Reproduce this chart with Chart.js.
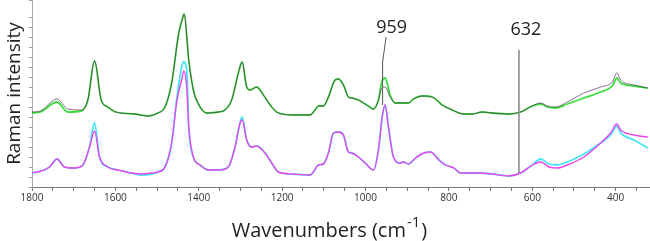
<!DOCTYPE html>
<html>
<head>
<meta charset="utf-8">
<script src="https://cdn.jsdelivr.net/npm/chart.js@4/dist/chart.umd.min.js"></script>
<style>
  body { margin: 0; background: #fff; }
  #wrap { position: relative; width: 650px; height: 241px; }
</style>
</head>
<body>
<div id="wrap"><canvas id="c"></canvas></div>
<script>
// upper pair of spectra (purple / green)
const upperWn = [1800, 1780, 1740, 1714, 1682, 1666, 1650, 1634, 1618, 1599,
    1554, 1522, 1498, 1481, 1465, 1448, 1440, 1435, 1424, 1413,
    1402, 1381, 1353, 1337, 1321, 1305, 1296, 1285, 1277, 1261,
    1245, 1225, 1209, 1169, 1133, 1121, 1113, 1101, 1089, 1073,
    1065, 1053, 1041, 1033, 1017, 993, 981, 969, 961, 953,
    941, 929, 897, 885, 864, 840, 816, 792, 764, 744,
    720, 696, 656, 628, 600, 580, 564, 544, 516, 476,
    436, 408, 397, 388, 356, 323];
const purple = [75, 76, 88, 78, 77, 87, 126, 87, 80, 75,
    73, 71, 74, 80, 104, 154, 167, 173, 127, 97,
    84, 74, 75, 77, 87, 114, 125, 100, 97, 100,
    92, 80, 74, 72, 72, 77, 81, 81, 90, 107,
    108, 102, 90, 89, 87, 81, 78, 87, 99, 100,
    90, 84, 84, 88, 91, 90, 82, 77, 73, 73,
    75, 74, 73, 75, 81, 84, 81, 80, 85, 94,
    100, 105, 114, 107, 102, 99];
const green = [74, 75, 85, 75, 76, 87, 126, 87, 80, 75,
    73, 71, 74, 80, 104, 154, 167, 173, 127, 97,
    84, 74, 75, 77, 87, 114, 125, 100, 97, 100,
    92, 80, 74, 72, 72, 77, 81, 81, 90, 107,
    108, 102, 90, 89, 87, 81, 78, 87, 105, 109,
    92, 84, 84, 88, 91, 90, 82, 77, 73, 73,
    75, 74, 73, 75, 81, 83, 80, 79, 83, 89,
    95, 101, 109, 104, 101, 99];

// lower pair of spectra (cyan / magenta)
const lowerWn = [1800, 1778, 1758, 1740, 1722, 1698, 1678, 1662, 1650, 1638,
    1618, 1594, 1562, 1537, 1513, 1498, 1481, 1465, 1453, 1441,
    1436, 1429, 1424, 1413, 1397, 1377, 1353, 1329, 1313, 1301,
    1296, 1285, 1273, 1261, 1241, 1225, 1209, 1177, 1133, 1125,
    1113, 1101, 1089, 1077, 1065, 1053, 1041, 1033, 1017, 1001,
    981, 969, 960, 953, 945, 933, 917, 909, 897, 880,
    860, 844, 824, 808, 788, 772, 728, 696, 656, 628,
    600, 580, 560, 540, 516, 476, 436, 412, 397, 388,
    356, 323];
const cyan = [14, 16, 20, 28, 20, 19, 22, 40, 64, 30,
    20, 17, 14, 12, 13, 15, 20, 44, 87, 120,
    125, 118, 60, 30, 22, 17, 17, 20, 40, 64,
    70, 47, 40, 41, 34, 24, 15, 13, 12, 15,
    22, 23, 34, 54, 55, 52, 35, 34, 30, 24,
    17, 37, 70, 82, 60, 30, 24, 25, 23, 29,
    34, 35, 27, 22, 19, 14, 14, 13, 11, 14,
    22, 28, 23, 22, 25, 33, 44, 52, 61, 54,
    47, 39];
const magenta = [14, 16, 20, 28, 20, 19, 22, 40, 56, 30,
    20, 17, 14, 13, 14, 15, 20, 44, 85, 107,
    116, 100, 60, 30, 22, 17, 17, 20, 40, 64,
    67, 47, 40, 41, 34, 24, 15, 13, 12, 15,
    22, 23, 34, 54, 55, 52, 35, 34, 30, 24,
    17, 37, 70, 82, 60, 30, 24, 25, 23, 29,
    34, 35, 27, 22, 19, 14, 14, 13, 11, 14,
    22, 25, 20, 19, 22, 30, 44, 54, 63, 57,
    52, 50];

// x ticks every 50, labelled every 200
const xTicks = [1800, 1750, 1700, 1650, 1600, 1550, 1500, 1450, 1400, 1350,
    1300, 1250, 1200, 1150, 1100, 1050, 1000, 950, 900, 850,
    800, 750, 700, 650, 600, 550, 500, 450, 400, 350];

// marked bands
const markerWn = [959, 632];
const markerText = ['959', '632'];

const pts = (xs, ys) => xs.map((x, i) => ({ x: x, y: ys[i] }));

function spectrum(data, color, width) {
    return {
        data: data,
        borderColor: color,
        borderWidth: width,
        pointRadius: 0,
        fill: false,
        cubicInterpolationMode: 'monotone'
    };
}

const markers = {
    id: 'markers',
    afterDatasetsDraw(chart) {
        const { ctx, scales: { x, y } } = chart;
        ctx.save();
        ctx.font = '18px "Open Sans"';
        ctx.fillStyle = '#222';
        ctx.textAlign = 'center';
        ctx.textBaseline = 'middle';

        // 959 - leader with a small bend
        let px = x.getPixelForValue(markerWn[0]);
        ctx.strokeStyle = '#555';
        ctx.lineWidth = 1;
        ctx.beginPath();
        ctx.moveTo(px + 3.5, y.getPixelForValue(150));
        ctx.lineTo(px, y.getPixelForValue(125));
        ctx.lineTo(px, y.getPixelForValue(82));
        ctx.stroke();
        ctx.fillText(markerText[0], px + 9, y.getPixelForValue(159));

        // 632 - straight grey line
        px = x.getPixelForValue(markerWn[1]);
        ctx.strokeStyle = '#8a8a8a';
        ctx.lineWidth = 1.6;
        ctx.beginPath();
        ctx.moveTo(px, y.getPixelForValue(137));
        ctx.lineTo(px, y.getPixelForValue(14));
        ctx.stroke();
        ctx.fillText(markerText[1], px + 7, y.getPixelForValue(157));
        ctx.restore();
    }
};

// x title with a real superscript
const xTitle = {
    id: 'xTitle',
    afterDraw(chart) {
        const ctx = chart.ctx;
        const main = '20px "Open Sans"', sup = '15px "Open Sans"';
        const parts = ['Wavenumbers (cm', '-1', ')'];
        ctx.save();
        ctx.fillStyle = '#222';
        ctx.textBaseline = 'alphabetic';
        ctx.textAlign = 'left';
        ctx.font = main;
        const w0 = ctx.measureText(parts[0]).width;
        const w2 = ctx.measureText(parts[2]).width;
        ctx.font = sup;
        const w1 = ctx.measureText(parts[1]).width + 1;
        let tx = chart.width / 2 + 4 - (w0 + w1 + w2) / 2;
        const base = chart.height - 4;
        ctx.font = main;
        ctx.fillText(parts[0], tx, base);
        tx += w0 + 1;
        ctx.font = sup;
        ctx.fillText(parts[1], tx, base - 10);
        tx += w1;
        ctx.font = main;
        ctx.fillText(parts[2], tx, base);
        ctx.restore();
    }
};

// Chart.js paints dataset 0 last, so the overlay traces come first
new Chart(document.getElementById('c'), {
    type: 'line',
    data: {
        datasets: [
            spectrum(pts(upperWn, purple), 'rgba(80, 25, 85, 0.7)', 0.9),
            spectrum(pts(upperWn, green), '#3ae03a', 1.8),
            spectrum(pts(lowerWn, magenta), '#ee44ee', 1.4),
            spectrum(pts(lowerWn, cyan), '#45e6f2', 1.8)
        ]
    },
    options: {
        responsive: true,
        maintainAspectRatio: false,
        animation: false,
        layout: { padding: { top: 0, right: 1, left: 0, bottom: 0 } },
        plugins: { legend: { display: false }, tooltip: { enabled: false } },
        scales: {
            x: {
                type: 'linear',
                reverse: true,
                min: 320,
                max: 1800,
                afterFit: s => { s.height = 54; },
                afterBuildTicks: s => { s.ticks = xTicks.map(v => ({ value: v })); },
                border: { color: '#777', width: 1 },
                grid: { drawOnChartArea: false, tickLength: 4, tickColor: '#777' },
                ticks: {
                    autoSkip: false,
                    maxRotation: 0,
                    padding: 1,
                    color: '#333',
                    font: { family: 'Open Sans', size: 10 },
                    callback: v => (v % 200 === 0 ? v : '')
                }
            },
            y: {
                min: 0,
                max: 187,
                afterFit: s => { s.width = 32; },
                border: { color: '#aaa', width: 1 },
                grid: { drawOnChartArea: false, tickLength: 3, tickColor: '#999' },
                ticks: { display: false, stepSize: 10 },
                title: {
                    display: true,
                    text: 'Raman intensity',
                    color: '#222',
                    font: { family: 'Open Sans', size: 19, lineHeight: 1 },
                    padding: { top: 5, bottom: 0 }
                }
            }
        }
    },
    plugins: [markers, xTitle]
});
</script>
</body>
</html>
